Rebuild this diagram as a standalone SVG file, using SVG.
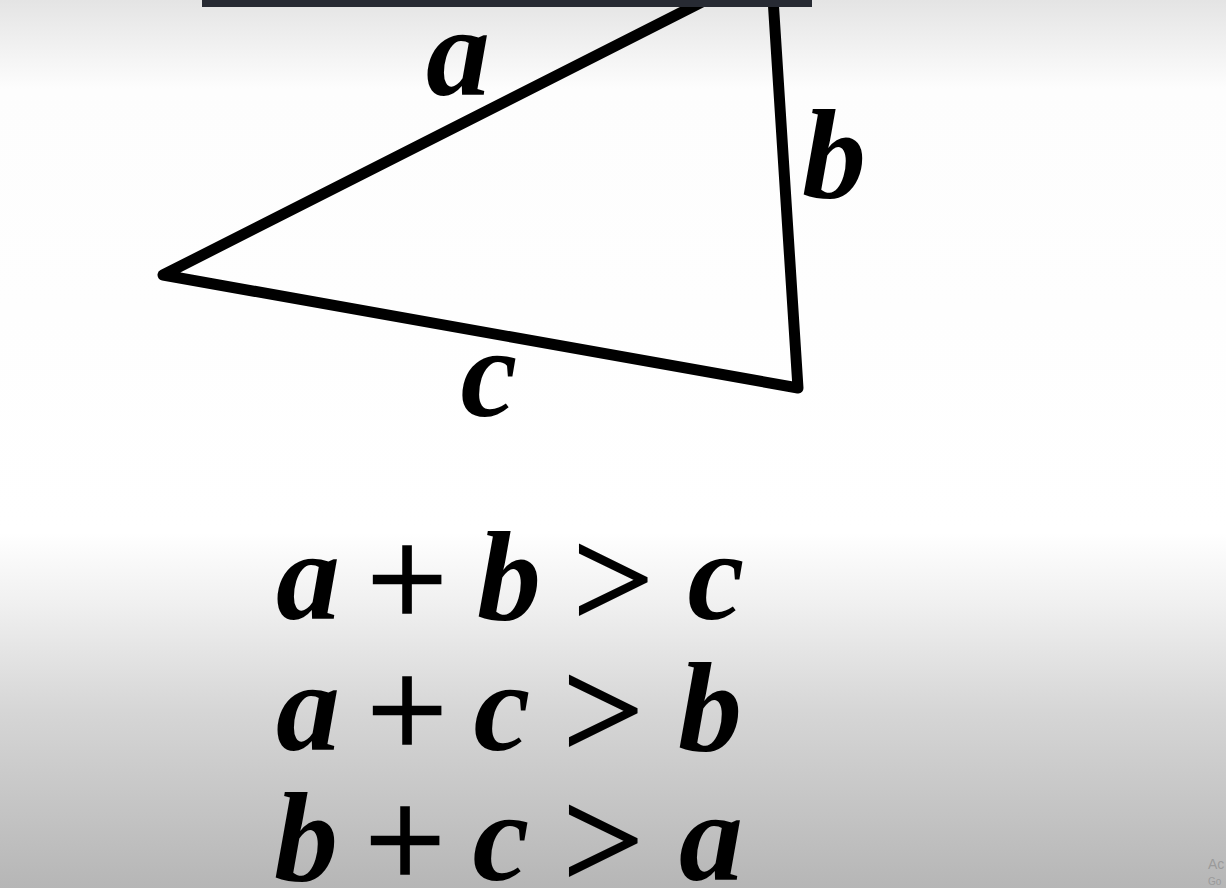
<svg xmlns="http://www.w3.org/2000/svg" width="1226" height="888" viewBox="0 0 1226 888">
  <defs>
    <linearGradient id="bg" x1="0" y1="0" x2="0" y2="888" gradientUnits="userSpaceOnUse">
      <stop offset="0" stop-color="#e4e4e4"/>
      <stop offset="0.1" stop-color="#fdfdfd"/>
      <stop offset="0.6" stop-color="#ffffff"/>
      <stop offset="0.68" stop-color="#f0f0f0"/>
      <stop offset="0.8" stop-color="#d6d6d6"/>
      <stop offset="1" stop-color="#b6b6b6"/>
    </linearGradient>
    <style>
      .v { font-family: "Liberation Serif", "Times New Roman", serif; font-weight: bold; font-style: italic; font-size: 128px; fill: #000; text-anchor: middle; }
      .op { font-family: "Liberation Serif", "Times New Roman", serif; font-size: 142px; fill: #000; stroke: #000; stroke-width: 2.5; text-anchor: middle; }
      .wm { font-family: "Liberation Sans", Arial, sans-serif; fill: #9a9a9a; }
    </style>
  </defs>
  <rect x="0" y="0" width="1226" height="888" fill="url(#bg)"/>
  <g id="triangle">
    <polygon points="163,275 771,-33 798,388" fill="none" stroke="#000" stroke-width="11" stroke-linejoin="round"/>
  </g>
  <rect id="topbar" x="202" y="0" width="610" height="7" fill="#272a33"/>
  <g id="labels">
    <text class="v" x="458" y="95">a</text>
    <text class="v" x="834" y="197">b</text>
    <text class="v" x="489" y="416">c</text>
  </g>
  <g id="eq1">
    <text class="v" x="308" y="619">a</text>
    <text class="op" x="407" y="627">+</text>
    <text class="v" x="509" y="619">b</text>
    <text class="op" x="613" y="627">&gt;</text>
    <text class="v" x="716" y="619">c</text>
  </g>
  <g id="eq2">
    <text class="v" x="308" y="750">a</text>
    <text class="op" x="407" y="758">+</text>
    <text class="v" x="502" y="750">c</text>
    <text class="op" x="603" y="758">&gt;</text>
    <text class="v" x="710" y="750">b</text>
  </g>
  <g id="eq3">
    <text class="v" x="306" y="880">b</text>
    <text class="op" x="405" y="888">+</text>
    <text class="v" x="501" y="880">c</text>
    <text class="op" x="603" y="888">&gt;</text>
    <text class="v" x="711" y="880">a</text>
  </g>
  <g id="watermark">
    <text class="wm" x="1208" y="869" font-size="14">Ac</text>
    <text class="wm" x="1208" y="885" font-size="10">Go</text>
  </g>
</svg>
